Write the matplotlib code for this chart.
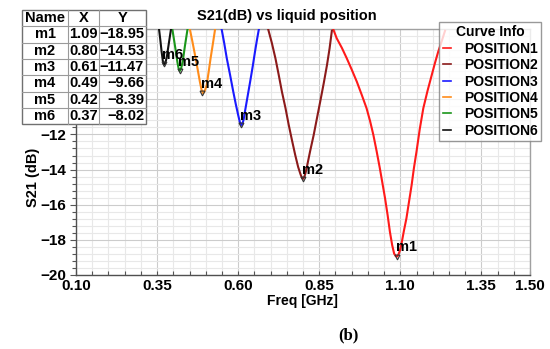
import matplotlib
matplotlib.use("Agg")
import matplotlib.pyplot as plt
from matplotlib.ticker import MultipleLocator, FixedLocator
from matplotlib.lines import Line2D
from matplotlib.patches import Rectangle

plt.rcParams['font.family'] = ['Liberation Sans', 'DejaVu Sans']

# ---------------- data ----------------
pos1_f = [0.893, 0.904, 0.920, 0.935, 0.950, 0.966, 0.981, 0.996, 1.007, 1.017, 1.027, 1.037,
          1.045, 1.053, 1.061, 1.068, 1.075, 1.081, 1.086, 1.090, 1.094, 1.099, 1.104,
          1.111, 1.119, 1.127, 1.135, 1.142, 1.150, 1.160, 1.171, 1.184, 1.197, 1.207,
          1.217, 1.228, 1.238]
pos1_s = [-6.0, -6.53, -7.08, -7.67, -8.30, -9.00, -9.74, -10.51, -11.25, -12.03, -12.95,
          -13.93, -14.78, -15.63, -16.60, -17.54, -18.30, -18.78, -18.93, -18.95, -18.85,
          -18.60, -18.20, -17.50, -16.77, -15.82, -14.88, -13.92, -12.98, -11.70, -10.51,
          -9.52, -8.62, -7.93, -7.29, -6.68, -6.10]

pos2_f = [0.692, 0.704, 0.715, 0.725, 0.735, 0.746, 0.756, 0.766, 0.776, 0.785, 0.792,
          0.796, 0.800, 0.804, 0.808, 0.812, 0.822, 0.833, 0.843, 0.853, 0.864, 0.874,
          0.882, 0.889]
pos2_s = [-5.97, -6.80, -7.67, -8.60, -9.57, -10.50, -11.46, -12.33, -13.17, -13.85, -14.25,
          -14.45, -14.53, -14.42, -14.18, -13.85, -12.95, -12.03, -11.08, -10.14, -9.08,
          -8.05, -7.10, -6.10]

pos3_f = [0.549, 0.557, 0.565, 0.575, 0.585, 0.593, 0.600, 0.605, 0.609, 0.613, 0.617,
          0.621, 0.629, 0.637, 0.645, 0.652, 0.658, 0.664]
pos3_s = [-6.0, -6.80, -7.67, -8.60, -9.57, -10.30, -10.89, -11.28, -11.47, -11.40, -11.15,
          -10.70, -9.85, -9.00, -8.12, -7.29, -6.62, -6.0]

pos4_f = [0.451, 0.459, 0.467, 0.475, 0.482, 0.487, 0.491, 0.495, 0.499, 0.503, 0.509,
          0.515, 0.522, 0.529]
pos4_s = [-6.0, -6.72, -7.48, -8.28, -9.00, -9.45, -9.65, -9.60, -9.42, -9.19, -8.45,
          -7.67, -6.85, -6.0]

pos5_f = [0.397, 0.403, 0.408, 0.413, 0.417, 0.420, 0.424, 0.429, 0.436, 0.444]
pos5_s = [-6.0, -6.70, -7.29, -7.92, -8.30, -8.39, -8.25, -7.86, -6.95, -6.0]

pos6_f = [0.356, 0.360, 0.364, 0.368, 0.371, 0.374, 0.377, 0.380, 0.386, 0.393]
pos6_s = [-6.0, -6.62, -7.29, -7.85, -8.02, -7.98, -7.82, -7.59, -6.85, -6.0]

series_names = ["POSITION1", "POSITION2", "POSITION3", "POSITION4", "POSITION5", "POSITION6"]
series_colors = ["#ff1a1a", "#8b1a1a", "#1a1aff", "#ff8c1a", "#1a961a", "#111111"]

marker_names = ["m1", "m2", "m3", "m4", "m5", "m6"]
marker_x = [1.09, 0.80, 0.61, 0.49, 0.42, 0.37]
marker_y = [-18.95, -14.53, -11.47, -9.66, -8.39, -8.02]
marker_x_txt = ["1.09", "0.80", "0.61", "0.49", "0.42", "0.37"]
marker_y_txt = ["\u221218.95", "\u221214.53", "\u221211.47", "\u22129.66", "\u22128.39", "\u22128.02"]

x_ticks = [0.10, 0.35, 0.60, 0.85, 1.10, 1.35, 1.50]
y_ticks = [-20, -18, -16, -14, -12, -10, -8, -6]
y_ticklabels = ["\u221220", "\u221218", "\u221216", "\u221214", "\u221212", "", "", ""]

# ---------------- figure ----------------
W, H = 550, 349
fig = plt.figure(figsize=(W / 100, H / 100), dpi=100)

def fx(px):
    return px / W

def fy(py):
    return 1 - py / H

ax = fig.add_axes([fx(76), fy(275), (530 - 76) / W, (275 - 29) / H])
ax.set_xlim(0.10, 1.50)
ax.set_ylim(-20, -6)

series = [(pos1_f, pos1_s), (pos2_f, pos2_s), (pos3_f, pos3_s),
          (pos4_f, pos4_s), (pos5_f, pos5_s), (pos6_f, pos6_s)]
for (f, s), c in zip(series, series_colors):
    ax.plot(f, s, color=c, lw=1.5, solid_joinstyle='round', zorder=3)

for name, mx, my in zip(marker_names, marker_x, marker_y):
    ax.plot([mx], [my], marker='v', ms=3.5, mfc='none', mec='#333333', mew=0.8, zorder=4)
    ax.annotate(name, (mx, my), xytext=(-1, 1.5), textcoords='offset points',
                ha='left', va='bottom', fontsize=10.5, fontweight='bold', zorder=5)

# ticks / grid
ax.xaxis.set_major_locator(FixedLocator(x_ticks))
ax.xaxis.set_minor_locator(MultipleLocator(0.05))
ax.yaxis.set_major_locator(FixedLocator(y_ticks))
ax.yaxis.set_minor_locator(MultipleLocator(0.4))
ax.set_xticklabels([f"{v:.2f}" for v in x_ticks])
ax.set_yticklabels(y_ticklabels)
for lab in ax.get_xticklabels() + ax.get_yticklabels():
    lab.set_fontweight('bold')
    lab.set_fontsize(11)
ax.tick_params(axis='x', which='both', direction='in', length=3, width=0.8, pad=3, color='#555555')
ax.tick_params(axis='y', which='major', direction='out', length=4, width=0.8, pad=3, color='#555555')
ax.tick_params(axis='y', which='minor', direction='out', length=3, width=0.8, color='#555555')
ax.grid(which='minor', color='#e8e8e8', lw=0.8)
ax.grid(which='major', color='#cccccc', lw=0.8)
ax.set_axisbelow(True)
for side in ['top', 'right']:
    ax.spines[side].set_color('#a0a0a0')
    ax.spines[side].set_linewidth(1.0)
for side in ['left', 'bottom']:
    ax.spines[side].set_color('#505050')
    ax.spines[side].set_linewidth(1.0)

# titles and labels
fig.text(fx(287), fy(16), "S21(dB) vs liquid position", ha='center', va='center',
         fontsize=10.5, fontweight='bold')
fig.text(fx(33), fy(177), "S21 (dB)", ha='center', va='center', rotation=90,
         fontsize=10.5, fontweight='bold')
fig.text(fx(302), fy(301), "Freq [GHz]", ha='center', va='center',
         fontsize=10, fontweight='bold')
fig.text(fx(348), fy(335), "(b)", ha='center', va='center',
         fontsize=12, fontweight='bold', family=['Liberation Serif', 'DejaVu Serif'])

# legend
handles = [Line2D([0], [0], color=c, lw=1.2) for c in series_colors]
leg = fig.legend(handles, series_names, title="Curve Info", loc='upper right',
                 bbox_to_anchor=(fx(541), fy(22)), frameon=True, fancybox=False,
                 edgecolor='#808080', handlelength=0.6, handletextpad=0.9,
                 borderpad=0.25, labelspacing=0.17, borderaxespad=0,
                 prop={'weight': 'bold', 'size': 10},
                 title_fontproperties={'weight': 'bold', 'size': 10})
leg.get_frame().set_linewidth(1.0)
leg.set_zorder(10)

# marker table
col_edges = [22, 68, 99, 146]
row_top, row_h = 10, 16.3
header = ["Name", "X", "Y"]
rows = [header] + [[n, xv, yv] for n, xv, yv in zip(marker_names, marker_x_txt, marker_y_txt)]
tx0, tx1 = col_edges[0], col_edges[-1]
ty1 = row_top + row_h * len(rows)
fig.patches.append(Rectangle((fx(tx0), fy(ty1)), fx(tx1) - fx(tx0), fy(row_top) - fy(ty1),
                             transform=fig.transFigure, facecolor='white',
                             edgecolor='#707070', lw=1.0, zorder=8))
for i in range(1, len(rows)):
    yy = row_top + i * row_h
    fig.lines.append(Line2D([fx(tx0), fx(tx1)], [fy(yy), fy(yy)], transform=fig.transFigure,
                            color='#9a9a9a', lw=0.8, zorder=9))
for xe in col_edges[1:-1]:
    fig.lines.append(Line2D([fx(xe), fx(xe)], [fy(row_top), fy(ty1)], transform=fig.transFigure,
                            color='#9a9a9a', lw=0.8, zorder=9))
for i, r in enumerate(rows):
    yc = row_top + (i + 0.5) * row_h
    for j, t in enumerate(r):
        if j == 2 and i > 0:
            fig.text(fx(col_edges[3] - 2), fy(yc), t, ha='right', va='center',
                     fontsize=10.5, fontweight='bold', zorder=10)
        else:
            xc = (col_edges[j] + col_edges[j + 1]) / 2
            fig.text(fx(xc), fy(yc), t, ha='center', va='center',
                     fontsize=10.5, fontweight='bold', zorder=10)

fig.savefig("out.png", dpi=100)
